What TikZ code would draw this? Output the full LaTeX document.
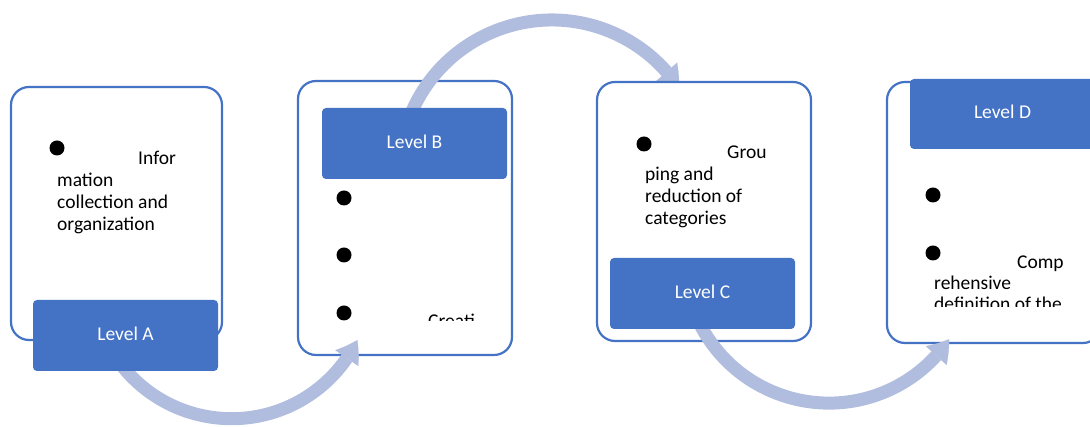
\documentclass[tikz,border=0pt]{standalone}
\usepackage{fontspec}
\setmainfont{Carlito}
\usetikzlibrary{arrows.meta,bending}
\definecolor{bordblue}{RGB}{68,114,196}
\definecolor{arrowblue}{RGB}{176,189,222}
\begin{document}
\begin{tikzpicture}[x=1pt,y=1pt,
  outerbox/.style={draw=bordblue, line width=2.2pt, fill=white, rounded corners=18pt, rectangle, anchor=south west, inner sep=0pt, outer sep=0pt},
  levelbox/.style={fill=bordblue, rounded corners=4pt, rectangle, anchor=south west, inner sep=0pt, outer sep=0pt, minimum width=185pt, minimum height=71pt},
  lvltext/.style={text=white, font=\fontsize{19.5}{21.7}\selectfont, inner sep=0pt, yshift=2pt},
  body/.style={anchor=base west, inner sep=0pt, font=\fontsize{19.5}{21.7}\selectfont},
  bulletdot/.style={circle, fill=black, minimum size=15pt, inner sep=0pt},
  band/.style={draw=arrowblue, line width=13pt, line cap=butt, -{Triangle[length=21pt,width=28pt,line width=0.1pt,bend]}}
]
\useasboundingbox (0,0) rectangle (1090,427);
\clip (0,0) rectangle (1090,427);
\coordinate (c1) at (231.6,148.3);
\coordinate (c2) at (551.9,254.2);
\coordinate (c3) at (829,168.9);

% outer boxes A, B, D
\node[outerbox, minimum width=211pt, minimum height=253pt] (boxA) at (11,87) {};
\node[outerbox, minimum width=214pt, minimum height=274pt] (boxB) at (298,72) {};
\node[outerbox, minimum width=214pt, minimum height=261pt] (boxD) at (887,84) {};

% arrows 1 and 2
\draw[band] ([shift={(218:140)}]c1) arc[start angle=218, end angle=334, radius=140];
\draw[band] ([shift={(158:152.8)}]c2) arc[start angle=158, end angle=33.5, radius=152.8];

% box C (covers head of arrow 2)
\node[outerbox, minimum width=214pt, minimum height=259pt] (boxC) at (597,86) {};

% arrow 3
\draw[band] ([shift={(206:145)}]c3) arc[start angle=206, end angle=326, radius=145];

% level boxes
\node[levelbox] (lvA) at (33,56) {};
\node[levelbox] (lvB) at (322,248) {};
\node[levelbox] (lvC) at (610,98) {};
\node[levelbox, minimum height=70pt] (lvD) at (910,278) {};
\node[lvltext] (tA) at (lvA.center) {Level A};
\node[lvltext] (tB) at (lvB.center) {Level B};
\node[lvltext] (tC) at (lvC.center) {Level C};
\node[lvltext] (tD) at (lvD.center) {Level D};

% box A text
\node[bulletdot] (bA1) at (57,279) {};
\node[body] (a1) at (138,262) {Infor};
\node[body] (a2) at (57,240.3) {mation};
\node[body] (a3) at (57,218.6) {collection and};
\node[body] (a4) at (57,196.9) {organization};

% box B text
\node[bulletdot] (bB1) at (344,229) {};
\node[bulletdot] (bB2) at (344,172) {};
\node[bulletdot] (bB3) at (344,114) {};
\begin{scope}
\clip (298,106) rectangle (512,346);
\node[body] (b1) at (428,99.4) {Creati};
\end{scope}

% box C text
\node[bulletdot] (bC1) at (644,283) {};
\node[body] (c1t) at (727,268) {Grou};
\node[body] (c2t) at (645,246.3) {ping and};
\node[body] (c3t) at (645,224.6) {reduction of};
\node[body] (c4t) at (645,202.9) {categories};

% box D text
\node[bulletdot] (bD1) at (933,232) {};
\node[bulletdot] (bD2) at (933,174) {};
\node[body] (d1) at (1017,158.7) {Comp};
\node[body] (d2) at (934,137.4) {rehensive};
\begin{scope}
\clip (887,120) rectangle (1090,346);
\node[body] (d3) at (934,116.1) {definition of the};
\end{scope}
\end{tikzpicture}
\end{document}
